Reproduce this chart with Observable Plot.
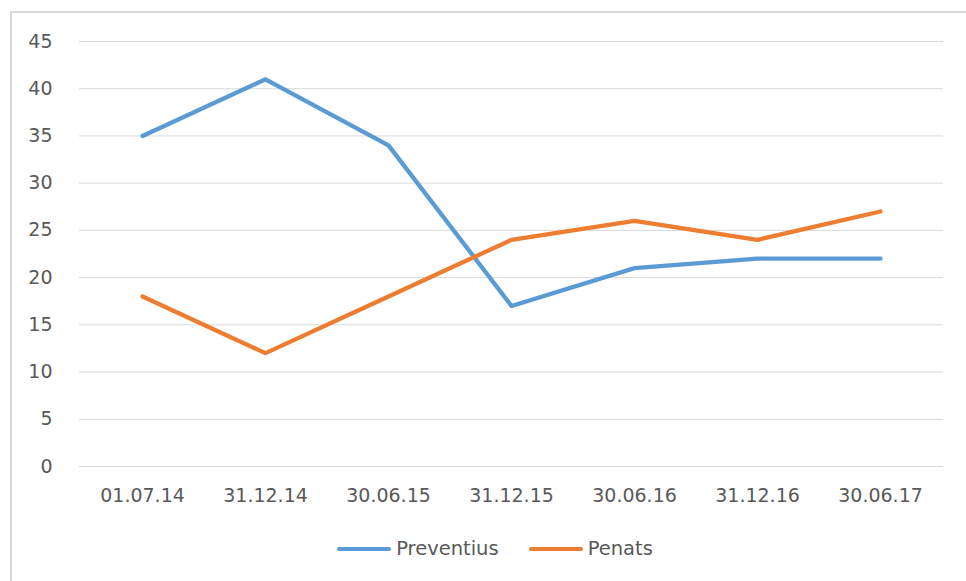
<!DOCTYPE html>
<html>
<head>
<meta charset="utf-8">
<script src="https://cdn.jsdelivr.net/npm/d3@7"></script>
<script src="https://cdn.jsdelivr.net/npm/@observablehq/plot@0.6"></script>
<style>
  html, body { margin: 0; padding: 0; background: #fff; }
  body { width: 966px; height: 581px; position: relative; overflow: hidden; font-family: "DejaVu Sans", sans-serif; }
  #frame { position: absolute; left: 10px; top: 11px; width: 970px; height: 600px; border-left: 2px solid #d9d9d9; border-top: 2px solid #d9d9d9; }
  #chart { position: absolute; left: 0; top: 0; }
  #legend { position: absolute; left: 12px; width: 966px; top: 537px; display: flex; justify-content: center; gap: 30px; color: #595959; font-size: 19.5px; }
  .item { display: flex; align-items: center; gap: 5px; }
  .swatch { width: 54px; height: 4px; border-radius: 2px; }
</style>
</head>
<body>
<div id="frame"></div>
<div id="chart"></div>
<div id="legend"></div>
<script>
const dates = ["01.07.14", "31.12.14", "30.06.15", "31.12.15", "30.06.16", "31.12.16", "30.06.17"];
const preventius = [35, 41, 34, 17, 21, 22, 22];
const penats = [18, 12, 18, 24, 26, 24, 27];
const seriesNames = ["Preventius", "Penats"];
const colors = ["#5B9BD5", "#ED7D31"];
const yTicks = [0, 5, 10, 15, 20, 25, 30, 35, 40, 45];

const rows = [];
dates.forEach((d, i) => {
  rows.push({date: d, value: preventius[i], series: seriesNames[0]});
  rows.push({date: d, value: penats[i], series: seriesNames[1]});
});

const plot = Plot.plot({
  width: 966,
  height: 520,
  marginLeft: 79,
  marginRight: 23,
  marginTop: 41,
  marginBottom: 54,
  style: {fontFamily: "DejaVu Sans, sans-serif", fontSize: "19px", color: "#595959", background: "transparent"},
  x: {type: "point", domain: dates, padding: 0.5, label: null},
  y: {domain: [0, 45], ticks: yTicks, label: null},
  color: {domain: seriesNames, range: colors},
  marks: [
    Plot.gridY(yTicks, {stroke: "#d9d9d9", strokeOpacity: 1, strokeWidth: 1}),
    Plot.axisY(yTicks, {tickSize: 0, tickPadding: 27, label: null, fill: "#595959", fontSize: 19}),
    Plot.axisX({tickSize: 0, tickPadding: 22, label: null, fill: "#595959", fontSize: 19}),
    Plot.line(rows, {x: "date", y: "value", z: "series", stroke: "series", strokeWidth: 4.3, strokeLinejoin: "round", strokeLinecap: "round"})
  ]
});
document.getElementById("chart").appendChild(plot);

const legend = document.getElementById("legend");
seriesNames.forEach((name, i) => {
  const item = document.createElement("div");
  item.className = "item";
  const sw = document.createElement("div");
  sw.className = "swatch";
  sw.style.background = colors[i];
  const label = document.createElement("span");
  label.textContent = name;
  item.appendChild(sw);
  item.appendChild(label);
  legend.appendChild(item);
});
</script>
</body>
</html>
